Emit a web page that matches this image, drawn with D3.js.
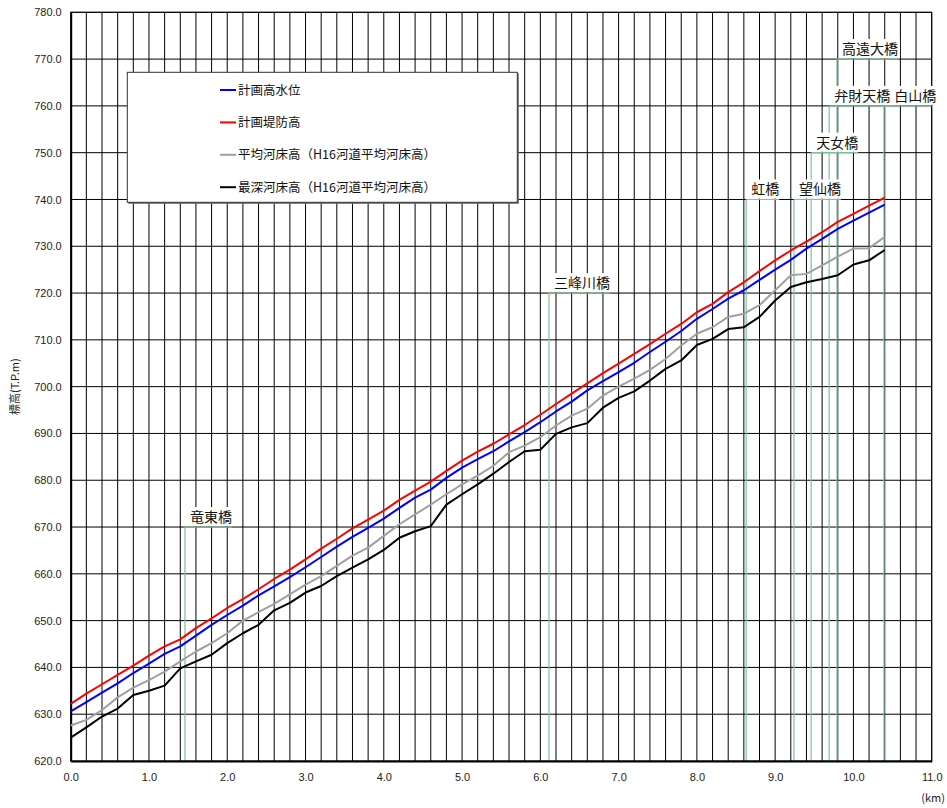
<!DOCTYPE html>
<html>
<head>
<meta charset="utf-8">
<script src="https://cdn.jsdelivr.net/npm/d3@7"></script>
<style>
  html, body { margin: 0; padding: 0; background: #fff; }
  svg { display: block; font-family: "Liberation Sans", Arial, "Noto Sans CJK JP", sans-serif; }
  .jp { font-family: "Noto Sans CJK JP", "Noto Sans", sans-serif; }
</style>
</head>
<body>
<svg id="chart" width="947" height="808"></svg>
<script>
// Distance from the downstream point (km), every 0.2 km
const distanceKm = d3.range(0, 10.41, 0.2).map(v => +v.toFixed(1));

// 計画堤防高 (T.P.m)
const leveeHeight = [
  632.2, 634.4, 636.4, 638.4, 640.4, 642.5, 644.5, 646.0, 648.4, 650.5,
  652.7, 654.6, 656.7, 658.9, 660.9, 663.1, 665.4, 667.5, 669.7, 671.6,
  673.5, 675.8, 677.8, 679.7, 682.0, 684.2, 686.1, 687.8, 689.8, 691.8,
  694.0, 696.3, 698.5, 700.7, 702.9, 704.9, 707.0, 709.1, 711.3, 713.4,
  715.9, 717.7, 720.2, 722.3, 724.7, 727.0, 729.1, 731.0, 733.0, 735.2,
  736.9, 738.7, 740.4
];

// 計画高水位 (T.P.m)
const highWaterLevel = [
  630.6, 632.6, 634.6, 636.6, 638.8, 640.8, 642.9, 644.5, 646.8, 649.1,
  651.2, 653.2, 655.4, 657.3, 659.3, 661.4, 663.6, 665.8, 667.9, 669.8,
  671.8, 674.1, 676.3, 678.0, 680.5, 682.7, 684.5, 686.2, 688.3, 690.3,
  692.4, 694.7, 696.8, 699.2, 701.2, 703.1, 705.1, 707.4, 709.6, 711.9,
  714.5, 716.6, 718.8, 720.6, 722.8, 725.0, 727.1, 729.5, 731.6, 733.7,
  735.5, 737.2, 738.9
];

// 平均河床高 (T.P.m)
const meanBedHeight = [
  627.6, 628.8, 630.9, 633.6, 635.7, 637.3, 639.1, 641.3, 643.4, 645.2,
  647.3, 650.0, 651.8, 653.6, 655.6, 657.7, 659.5, 661.7, 663.9, 665.6,
  668.1, 670.6, 672.7, 674.8, 677.0, 679.1, 681.0, 683.1, 686.0, 687.4,
  689.2, 691.7, 693.8, 695.3, 698.1, 700.0, 701.7, 703.6, 705.9, 708.8,
  711.3, 712.7, 714.9, 715.6, 717.4, 720.6, 723.8, 724.1, 725.9, 727.8,
  729.5, 729.6, 732.0
];

// 最深河床高 (T.P.m)
const deepestBedHeight = [
  625.0, 627.2, 629.5, 631.2, 634.1, 635.0, 636.1, 639.8, 641.3, 642.7,
  645.2, 647.3, 649.1, 652.2, 653.8, 656.0, 657.4, 659.5, 661.3, 663.1,
  665.1, 667.7, 669.1, 670.2, 674.8, 677.0, 679.1, 681.4, 683.9, 686.2,
  686.5, 689.9, 691.3, 692.2, 695.5, 697.6, 699.0, 701.3, 703.8, 705.6,
  708.9, 710.2, 712.3, 712.7, 714.9, 718.4, 721.3, 722.3, 723.0, 723.8,
  726.1, 727.0, 729.2
];

// Bridges: name, location (km) and the elevation where the name tag sits
const bridgeNames = ["竜東橋", "三峰川橋", "虹橋", "望仙橋", "天女橋", "弁財天橋", "高遠大橋", "白山橋"];
const bridgeKm    = [1.46, 6.11, 8.63, 9.24, 9.46, 9.69, 9.79, 10.39];
const bridgeTagAt = [670, 720, 740, 740, 750, 760, 770, 760];

// Axis ticks
const xTicks = d3.range(0, 11.01, 1);
const yTicks = d3.range(620, 780.01, 10);
const xGrid = d3.range(0.2, 11.01, 0.2).map(v => +v.toFixed(1));

const seriesNames  = ["計画高水位", "計画堤防高", "平均河床高（H16河道平均河床高）", "最深河床高（H16河道平均河床高）"];
const seriesValues = [highWaterLevel, leveeHeight, meanBedHeight, deepestBedHeight];
const seriesColors = ["#0000ff", "#ff0000", "#a0a0a0", "#000000"];

const svg = d3.select("#chart");
const x = d3.scaleLinear().domain([0, 11]).range([70.7, 931.7]);
const y = d3.scaleLinear().domain([620, 780]).range([761, 12.3]);

// grid
const grid = svg.append("g");
grid.selectAll("line.v").data(xGrid).join("line")
  .attr("x1", d => x(d)).attr("x2", d => x(d))
  .attr("y1", y(620)).attr("y2", y(780))
  .attr("stroke", "#000").attr("stroke-width", 1);
grid.selectAll("line.h").data(yTicks.slice(1)).join("line")
  .attr("x1", x(0)).attr("x2", x(11))
  .attr("y1", d => y(d)).attr("y2", d => y(d))
  .attr("stroke", "#000").attr("stroke-width", 1);

// bridge verticals
const bridges = bridgeNames.map((n, i) => ({ name: n, km: bridgeKm[i], top: bridgeTagAt[i] }));
svg.append("g").selectAll("line").data(bridges).join("line")
  .attr("x1", d => x(d.km)).attr("x2", d => x(d.km))
  .attr("y1", d => y(d.top)).attr("y2", y(620))
  .attr("stroke", "#7cc39c").attr("stroke-width", 1.2);

// axes lines
const axX = svg.append("g").attr("transform", `translate(0,${y(620)})`)
  .call(d3.axisBottom(x).tickValues(xTicks).tickSize(0).tickPadding(12).tickFormat(d3.format(".1f")));
const axY = svg.append("g").attr("transform", `translate(${x(0)},0)`)
  .call(d3.axisLeft(y).tickValues(yTicks).tickSize(0).tickPadding(9).tickFormat(d3.format(".1f")));
[axX, axY].forEach(a => {
  a.select(".domain").attr("stroke", "#000").attr("stroke-width", 2);
  a.selectAll("text").attr("font-size", 11).attr("fill", "#222")
    .attr("font-family", "'Liberation Sans', Arial, sans-serif");
});
svg.append("rect").attr("x", x(0)).attr("y", y(780))
  .attr("width", x(11) - x(0)).attr("height", y(620) - y(780))
  .attr("fill", "none").attr("stroke", "#000").attr("stroke-width", 1);

// series
const line = d3.line().x((d, i) => x(distanceKm[i])).y(d => y(d));
[1, 0, 2, 3].forEach(k => {
  svg.append("path").datum(seriesValues[k])
    .attr("d", line).attr("fill", "none")
    .attr("stroke", seriesColors[k]).attr("stroke-width", 2)
    .attr("stroke-linejoin", "round");
});

// bridge name tags: a leader from the bridge line with the name just above it;
// tags sharing one elevation are kept from running into each other
const tags = svg.append("g").attr("class", "jp");
const lastEnd = {};
bridges.forEach(b => {
  const g = tags.append("g");
  const t = g.append("text").text(b.name).attr("font-size", 14).attr("fill", "#111");
  const w = t.node().getComputedTextLength();
  const x0 = x(b.km), yy = y(b.top);
  const start = Math.max(x0 + 5, (lastEnd[b.top] ?? -Infinity) + 4);
  const end = start + w;
  lastEnd[b.top] = end;
  t.attr("x", start).attr("y", yy - 5);
  g.insert("rect", "text").attr("x", start - 2).attr("y", yy - 20)
    .attr("width", w + 4).attr("height", 19).attr("fill", "#fff");
  g.append("line").attr("x1", x0).attr("x2", Math.min(end, x(11))).attr("y1", yy).attr("y2", yy)
    .attr("stroke", "#7cc39c").attr("stroke-width", 1.2);
});

// legend
const lg = svg.append("g").attr("class", "jp");
lg.append("rect").attr("x", 128.3).attr("y", 73.3).attr("width", 390.5).attr("height", 130.5).attr("fill", "#666");
lg.append("rect").attr("x", 127.3).attr("y", 72.3).attr("width", 390).attr("height", 130)
  .attr("fill", "#fff").attr("stroke", "#333").attr("stroke-width", 1);
seriesNames.forEach((n, i) => {
  const cy = 90 + i * 32.4;
  lg.append("line").attr("x1", 220).attr("x2", 236).attr("y1", cy).attr("y2", cy)
    .attr("stroke", seriesColors[i]).attr("stroke-width", 2);
  lg.append("text").attr("x", 238).attr("y", cy).attr("dy", "0.36em")
    .attr("font-size", 12.5).attr("fill", "#111").text(n);
});

// axis titles
svg.append("text").attr("class", "jp")
  .attr("transform", `translate(19,${(y(620) + y(780)) / 2}) rotate(-90)`)
  .attr("text-anchor", "middle").attr("font-size", 11).attr("fill", "#222").text("標高(T.P.m)");
svg.append("text").attr("class", "jp").attr("x", 945).attr("y", 802)
  .attr("text-anchor", "end").attr("font-size", 11).attr("fill", "#222").text("(km)");
</script>
</body>
</html>
